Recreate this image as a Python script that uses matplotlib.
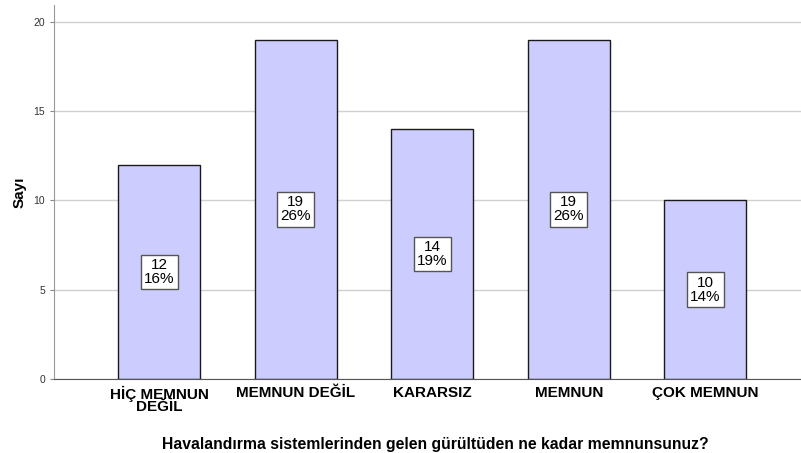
import matplotlib.pyplot as plt

categories = ['HİÇ MEMNUN\nDEĞİL', 'MEMNUN DEĞİL', 'KARARSIZ', 'MEMNUN', 'ÇOK MEMNUN']
counts = [12, 19, 14, 19, 10]
y_ticks = [0, 5, 10, 15, 20]

plt.rcParams['font.family'] = ['Liberation Sans', 'DejaVu Sans']

fig = plt.figure(figsize=(8.01, 4.53), dpi=100)
ax = fig.add_axes([0.0674, 0.1634, 0.9326, 0.8256])

total = sum(counts)
x = range(len(categories))
ax.set_axisbelow(True)
ax.yaxis.grid(True, color='#d0d0d0', linewidth=1)
ax.bar(x, counts, width=0.6, color='#ccccff', edgecolor='#1a1a1a', linewidth=1)

for i, c in enumerate(counts):
    pct = round(100 * c / total)
    ax.text(i, c / 2, f'{c}\n{pct}%', ha='center', va='center', fontsize=11,
            linespacing=1.0, color='black',
            bbox=dict(boxstyle='square,pad=0.22', facecolor='white', edgecolor='#555555', linewidth=1))

ax.set_xlim(-0.77, 4.7)
ax.set_ylim(0, 20.95)
ax.set_yticks(y_ticks)
ax.set_xticks(list(x))
ax.set_xticklabels(categories, fontsize=11, fontweight='bold', linespacing=0.85)
ax.tick_params(axis='x', length=0, pad=5)
ax.tick_params(axis='y', labelsize=7.5, length=3, color='#888888', labelcolor='#333333')

for side in ['top', 'right']:
    ax.spines[side].set_visible(False)
ax.spines['left'].set_color('#999999')
ax.spines['bottom'].set_color('#555555')

ax.set_ylabel('Sayı', fontsize=11, fontweight='bold')
ax.yaxis.set_label_coords(-0.036, 0.5)
ax.set_xlabel('Havalandırma sistemlerinden gelen gürültüden ne kadar memnunsunuz?',
              fontsize=11.3, fontweight='bold')
ax.xaxis.set_label_coords(0.51, -0.155)

fig.savefig('out.png', dpi=100)
